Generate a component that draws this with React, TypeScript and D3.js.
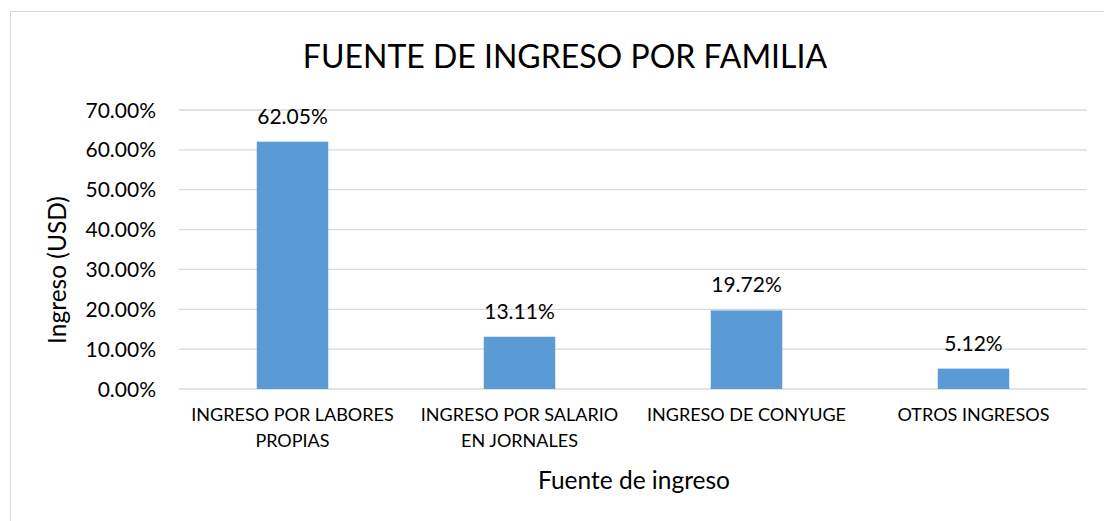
import * as d3 from "d3";

const categories = [
  ["INGRESO POR LABORES", "PROPIAS"],
  ["INGRESO POR SALARIO", "EN JORNALES"],
  ["INGRESO DE CONYUGE"],
  ["OTROS INGRESOS"],
];
const values = [0.6205, 0.1311, 0.1972, 0.0512];
const yTicks = [0, 0.1, 0.2, 0.3, 0.4, 0.5, 0.6, 0.7];

const FONT = "Lato, 'Open Sans', sans-serif";

export default function App() {
  const width = 1104;
  const height = 521;
  const plot = { left: 179, right: 1087, top: 110, bottom: 389 };

  const x = d3
    .scaleBand<number>()
    .domain(categories.map((_, i) => i))
    .range([plot.left, plot.right]);
  const y = d3.scaleLinear().domain([0, 0.7]).range([plot.bottom, plot.top]);
  const barW = x.bandwidth() * 0.315;
  const fmt = (v: number) => (v * 100).toFixed(2) + "%";

  return (
    <svg
      width={width}
      height={height}
      style={{ position: "absolute", left: 0, top: 0, background: "#fff" }}
      fontFamily={FONT}
    >
      <rect x={10.5} y={11.5} width={1110} height={530} fill="#fff" stroke="#d9d9d9" />
      <text x={565} y={68} textAnchor="middle" fontSize={32} fill="#000">
        FUENTE DE INGRESO POR FAMILIA
      </text>
      {yTicks.map((t) => (
        <g key={t}>
          <line
            x1={plot.left}
            x2={plot.right}
            y1={y(t)}
            y2={y(t)}
            stroke="#d9d9d9"
            strokeWidth={1.3}
          />
          <text x={156} y={y(t)} dy="0.36em" textAnchor="end" fontSize={21} fill="#000">
            {fmt(t)}
          </text>
        </g>
      ))}
      {values.map((v, i) => {
        const cx = (x(i) as number) + x.bandwidth() / 2;
        return (
          <g key={i}>
            <rect x={cx - barW / 2} y={y(v)} width={barW} height={y(0) - y(v)} fill="#5b9bd5" />
            <text x={cx} y={y(v) - 18} textAnchor="middle" fontSize={21} fill="#000">
              {fmt(v)}
            </text>
            {categories[i].map((line, j) => (
              <text
                key={j}
                x={cx}
                y={421 + j * 26}
                textAnchor="middle"
                fontSize={18}
                fill="#000"
              >
                {line}
              </text>
            ))}
          </g>
        );
      })}
      <text x={634} y={489} textAnchor="middle" fontSize={24.5} fill="#000">
        Fuente de ingreso
      </text>
      <text
        transform="translate(66,270) rotate(-90)"
        textAnchor="middle"
        fontSize={24.5}
        fill="#000"
      >
        Ingreso (USD)
      </text>
    </svg>
  );
}
